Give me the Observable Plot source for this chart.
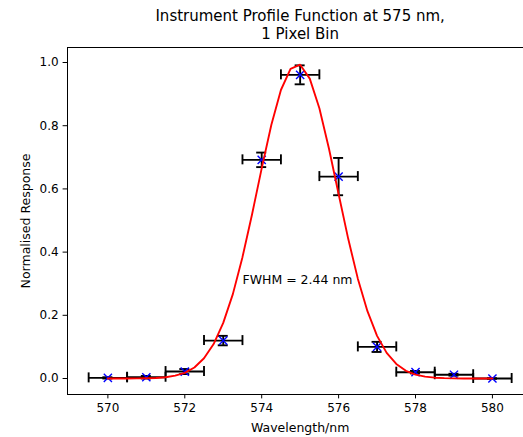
<!DOCTYPE html>
<html>
<head>
<meta charset="utf-8">
<script src="https://cdn.jsdelivr.net/npm/d3@7"></script>
<script src="https://cdn.jsdelivr.net/npm/@observablehq/plot@0.6"></script>
<style>
  html, body { margin: 0; padding: 0; background: white; overflow: hidden; }
  svg { overflow: hidden; }
</style>
</head>
<body>
<div id="chart"></div>
<script>
// Measured data points
const wavelengths = [570, 571, 572, 573, 574, 575, 576, 577, 578, 579, 580];
const response = [0.002, 0.004, 0.022, 0.120, 0.692, 0.961, 0.639, 0.100, 0.020, 0.012, 0.000];
const responseErr = [0.002, 0.004, 0.008, 0.015, 0.023, 0.030, 0.059, 0.016, 0.004, 0.003, 0.001];
const wavelengthErr = [0.5, 0.5, 0.5, 0.5, 0.5, 0.5, 0.5, 0.5, 0.5, 0.5, 0.5];

// Fitted profile curve
const fitX = [570, 570.25, 570.5, 570.75, 571, 571.25, 571.5, 571.75, 572, 572.25, 572.5, 572.75,
  573, 573.25, 573.5, 573.75, 574, 574.25, 574.5, 574.75, 575, 575.25, 575.5, 575.75,
  576, 576.25, 576.5, 576.75, 577, 577.25, 577.5, 577.75, 578, 578.25, 578.5, 578.75,
  579, 579.25, 579.5, 579.75, 580];
const fitY = [0.0000, 0.0000, 0.0001, 0.0003, 0.0008, 0.0018, 0.0041, 0.0090, 0.018, 0.035, 0.064, 0.109,
  0.176, 0.267, 0.384, 0.520, 0.665, 0.802, 0.913, 0.980, 0.993, 0.949, 0.855, 0.727,
  0.584, 0.442, 0.316, 0.213, 0.135, 0.081, 0.046, 0.0245, 0.0123, 0.0059, 0.0026, 0.0011,
  0.0004, 0.0001, 0.0000, 0.0000, 0.0000];

// Axis ticks and texts
const xTicks = [570, 572, 574, 576, 578, 580];
const yTicks = [0.0, 0.2, 0.4, 0.6, 0.8, 1.0];
const titleLines = ["Instrument Profile Function at 575 nm,", "1 Pixel Bin"];
const xLabel = "Wavelength/nm";
const yLabel = "Normalised Response";
const annotation = {x: 573.5, y: 0.3, text: "FWHM = 2.44 nm"};

const xDomain = [568.95, 581.05];
const yDomain = [-0.0506, 1.0475];

const pts = wavelengths.map((w, i) => ({w, r: response[i], e: responseErr[i], we: wavelengthErr[i]}));
const fit = fitX.map((x, i) => ({x, y: fitY[i]}));

const ebW = 1.875;
const cap = -5;
const titleSize = 15;

const chart = Plot.plot({
  width: 523,
  height: 437,
  marginLeft: 67,
  marginRight: 0,
  marginTop: 47,
  marginBottom: 43,
  style: {fontFamily: "DejaVu Sans", fontSize: "12px", background: "white", color: "black", overflow: "hidden"},
  x: {domain: xDomain, range: [67, 532.3]},
  y: {domain: yDomain, range: [394, 47]},
  marks: [
    // spines
    Plot.ruleX([xDomain[0]], {stroke: "black", strokeWidth: 1}),
    Plot.ruleY([yDomain[0]], {stroke: "black", strokeWidth: 1}),
    Plot.ruleY([yDomain[1]], {stroke: "black", strokeWidth: 1}),
    Plot.axisX({ticks: xTicks, tickFormat: d => String(d), tickSize: 4.4, tickPadding: 4.4, label: null, fontSize: 12}),
    Plot.axisY({ticks: yTicks, tickFormat: d3.format(".1f"), tickSize: 4.4, tickPadding: 4.4, label: null, fontSize: 12}),
    // error bars
    Plot.ruleX(pts, {x: "w", y1: d => d.r - d.e, y2: d => d.r + d.e, stroke: "black", strokeWidth: ebW}),
    Plot.ruleY(pts, {y: "r", x1: d => d.w - d.we, x2: d => d.w + d.we, stroke: "black", strokeWidth: ebW}),
    Plot.ruleY(pts, {y: d => d.r + d.e, x1: "w", x2: "w", insetLeft: cap, insetRight: cap, stroke: "black", strokeWidth: ebW}),
    Plot.ruleY(pts, {y: d => d.r - d.e, x1: "w", x2: "w", insetLeft: cap, insetRight: cap, stroke: "black", strokeWidth: ebW}),
    Plot.ruleX(pts, {x: d => d.w - d.we, y1: "r", y2: "r", insetTop: cap, insetBottom: cap, stroke: "black", strokeWidth: ebW}),
    Plot.ruleX(pts, {x: d => d.w + d.we, y1: "r", y2: "r", insetTop: cap, insetBottom: cap, stroke: "black", strokeWidth: ebW}),
    // markers
    Plot.dot(pts, {x: "w", y: "r", symbol: "times", r: 3.8, stroke: "#0000ff", fill: "none", strokeWidth: 1.4}),
    // fitted curve
    Plot.line(fit, {x: "x", y: "y", stroke: "#ff0000", strokeWidth: 1.875}),
    // annotation
    Plot.text([annotation], {x: "x", y: "y", text: "text", textAnchor: "start", lineAnchor: "bottom", fontSize: 12.5, fill: "black"}),
    // title (two lines in one text element)
    Plot.text([titleLines.join("\n")], {x: () => 575, frameAnchor: "top", textAnchor: "middle", dy: -9, lineAnchor: "bottom", lineHeight: 17.6 / titleSize, fontSize: titleSize, fill: "black"}),
    // axis labels
    Plot.text([xLabel], {x: () => 575, frameAnchor: "bottom", textAnchor: "middle", dy: 37, lineAnchor: "bottom", fontSize: 12.5, fill: "black"}),
    Plot.text([yLabel], {frameAnchor: "left", textAnchor: "middle", dx: -42, rotate: -90, fontSize: 12.5, fill: "black"})
  ]
});
document.getElementById("chart").appendChild(chart);
</script>
</body>
</html>
